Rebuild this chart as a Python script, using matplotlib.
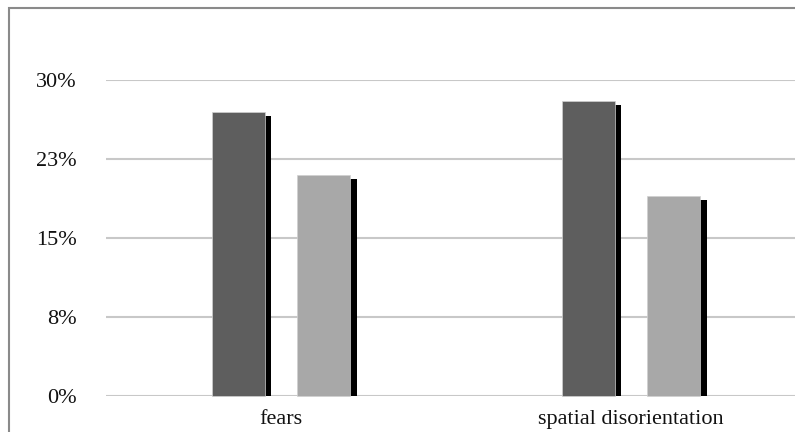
import numpy as np
import matplotlib.pyplot as plt
from matplotlib.patches import Rectangle

categories = ['fears', 'spatial disorientation']
series_dark = [27.0, 28.0]   # first series [%]
series_light = [21.0, 19.0]  # second series [%]
yticks = [0, 7.5, 15, 22.5, 30]
ytick_labels = ['0%', '8%', '15%', '23%', '30%']

W, H = 795, 432
fig = plt.figure(figsize=(W / 100, H / 100), dpi=100)
plt.rcParams['font.family'] = ['Liberation Serif', 'DejaVu Serif']

# plot area: gridlines from x=106, 0% at y=396, 30% at y=80 (cut off on the right)
ax = fig.add_axes([106 / W, (H - 396) / H, 700 / W, 316 / H])
ax.set_xlim(-0.5, 1.5)
ax.set_ylim(0, 30)

x = np.arange(len(categories))
bw = 0.151
off = 0.122
sh_dx = 0.019   # shadow offset right
sh_dy = 0.38    # shadow offset down [%]

for xs, vals, col in [(x - off, series_dark, '#5e5e5e'), (x + off, series_light, '#a8a8a8')]:
    # black drop shadow behind each bar
    ax.bar(xs + sh_dx, np.array(vals) - sh_dy, bw, color='black', zorder=2, clip_on=False)
    ax.bar(xs, vals, bw, color=col, edgecolor='#d0d0d0', linewidth=0.5, zorder=3, clip_on=False)

ax.set_yticks(yticks)
ax.set_yticklabels(ytick_labels)
ax.set_xticks(x)
ax.set_xticklabels(categories)
ax.grid(axis='y', color='#c8c8c8', linewidth=1.5, zorder=1)
ax.set_axisbelow(True)
ax.tick_params(axis='y', length=0, pad=21, labelsize=16, colors='#111111')
ax.tick_params(axis='x', length=0, pad=10, labelsize=16, colors='#111111')
for s in ax.spines.values():
    s.set_visible(False)

# outer chart frame, partly cut off at the right and bottom
fig.patches.append(Rectangle((9 / W, -0.1), 1.2, 1.1 - 8 / H, transform=fig.transFigure,
                             fill=False, edgecolor='#8a8a8a', linewidth=1.5))

fig.savefig('out.png', dpi=100)
